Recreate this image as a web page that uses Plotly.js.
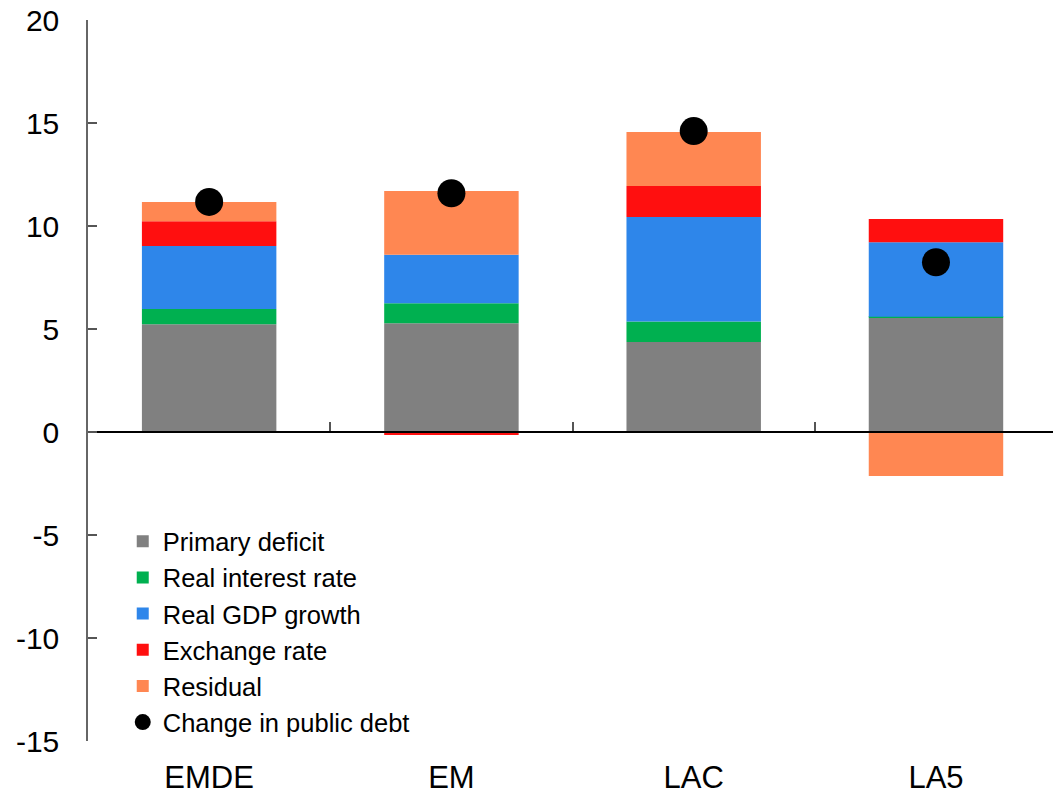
<!DOCTYPE html>
<html>
<head>
<meta charset="utf-8">
<script src="https://cdn.plot.ly/plotly-3.0.1.min.js"></script>
<style>
  html, body { margin: 0; padding: 0; background: #fff; }
  #chart { width: 1053px; height: 795px; }
</style>
</head>
<body>
<div id="chart"></div>
<script>
// Decomposition of the change in public debt (percentage points of GDP)
const regions = ["EMDE", "EM", "LAC", "LA5"];

const primaryDeficit   = [5.23, 5.28, 4.37, 5.55];
const realInterestRate = [0.74, 0.97, 1.00, 0.05];
const realGdpGrowth    = [3.06, 2.36, 5.07, 3.61];
const exchangeRate     = [1.20, -0.15, 1.50, 1.13];
const residual         = [0.94, 3.09, 2.62, -2.14];
const changeInDebt     = [11.17, 11.59, 14.61, 8.24];

const yTickValues = [-15, -10, -5, 0, 5, 10, 15, 20];

const FONT = "Liberation Sans, Arial, sans-serif";

function barTrace(name, values, color) {
  return {
    type: "bar",
    name: name,
    x: regions,
    y: values,
    width: 0.555,
    marker: { color: color, line: { width: 0 } },
    hoverinfo: "x+y+name"
  };
}

const traces = [
  barTrace("Primary deficit", primaryDeficit, "#808080"),
  barTrace("Real interest rate", realInterestRate, "#00B050"),
  barTrace("Real GDP growth", realGdpGrowth, "#2E86EA"),
  barTrace("Exchange rate", exchangeRate, "#FF0F0F"),
  barTrace("Residual", residual, "#FF8752"),
  {
    type: "scatter",
    mode: "markers",
    name: "Change in public debt",
    x: regions,
    y: changeInDebt,
    xaxis: "x2",
    marker: { color: "#000000", size: 28 },
    hoverinfo: "x+y+name"
  }
];

const xRange = [-0.5, 3.483];

const layout = {
  width: 1053,
  height: 795,
  margin: { l: 88, r: 0, t: 20, b: 54 },
  paper_bgcolor: "#ffffff",
  plot_bgcolor: "#ffffff",
  barmode: "relative",
  showlegend: true,
  font: { family: FONT, color: "#000000" },
  xaxis: {
    type: "category",
    range: xRange,
    showline: false,
    showgrid: false,
    zeroline: false,
    ticks: "",
    tickfont: { family: FONT, size: 31, color: "#000000" },
    ticklabelstandoff: 15,
    fixedrange: true
  },
  xaxis2: {
    type: "category",
    overlaying: "x",
    anchor: "free",
    position: 15 / 35,
    side: "bottom",
    range: xRange,
    showline: true,
    linecolor: "#000000",
    linewidth: 1.5,
    showgrid: false,
    zeroline: false,
    ticks: "inside",
    tickson: "boundaries",
    ticklen: 9,
    tickwidth: 1.5,
    tickcolor: "#555555",
    showticklabels: false,
    fixedrange: true
  },
  yaxis: {
    range: [-15, 20],
    tickvals: yTickValues,
    ticktext: yTickValues.map(String),
    showline: true,
    linecolor: "#666666",
    linewidth: 1.5,
    ticks: "inside",
    ticklen: 9,
    tickwidth: 1.5,
    tickcolor: "#555555",
    showgrid: false,
    zeroline: false,
    tickfont: { family: FONT, size: 30, color: "#000000" },
    ticklabelstandoff: 21,
    fixedrange: true
  },
  legend: {
    x: 0.036,
    xanchor: "left",
    y: 0.309,
    yanchor: "top",
    traceorder: "normal",
    bgcolor: "rgba(0,0,0,0)",
    font: { family: FONT, size: 25.5, color: "#000000" },
    itemclick: false,
    itemdoubleclick: false
  }
};

Plotly.newPlot("chart", traces, layout, { displayModeBar: false, staticPlot: false });
</script>
</body>
</html>
